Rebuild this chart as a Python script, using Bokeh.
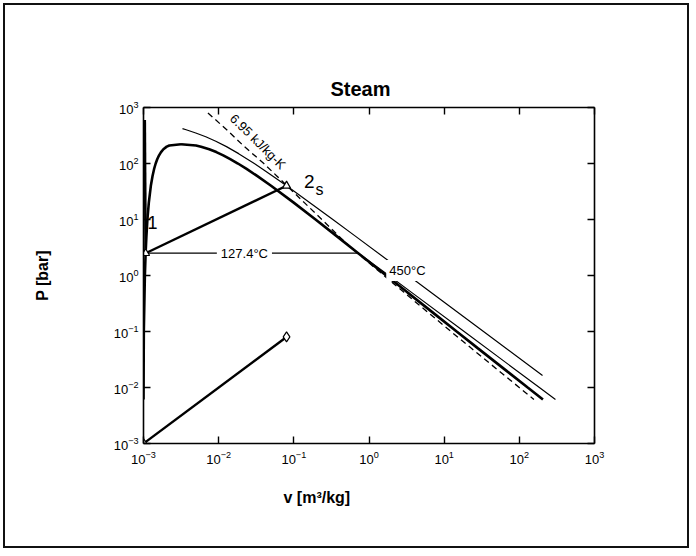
from bokeh.plotting import figure
from bokeh.models import LogAxis, FixedTicker, CustomJSTickFormatter, LogTickFormatter, Label, Title
from bokeh.embed import file_html
from bokeh.resources import INLINE

# ---- data (v in m3/kg, P in bar) ----
# saturation dome: liquid branch up to the critical point, then vapour branch
sat_liq_P = [0.00611, 0.1, 1.0, 2.5, 5, 10, 20, 40, 60, 80, 100, 120, 140, 160, 180, 200, 210, 220.6]
sat_liq_v = [0.001000, 0.001010, 0.001043, 0.001067, 0.001093, 0.001127, 0.001177, 0.001252,
             0.001319, 0.001384, 0.001452, 0.001527, 0.001611, 0.001711, 0.001840, 0.002036,
             0.002207, 0.003155]
sat_vap_P = [220.6, 210, 200, 180, 160, 140, 120, 100, 80, 60, 40, 20, 10, 5, 2.5, 1, 0.5,
             0.2, 0.1, 0.05, 0.02, 0.01, 0.00611]
sat_vap_v = [0.003155, 0.00500, 0.005834, 0.007489, 0.009306, 0.01150, 0.01426, 0.01803,
             0.02352, 0.03244, 0.04978, 0.09963, 0.1944, 0.3749, 0.7187, 1.694, 3.240, 7.649,
             14.67, 28.19, 67.00, 129.2, 206.1]

# compressed-liquid line
liq_P = [2.5, 600]
liq_v = [0.001067, 0.001040]

# 450 C isotherm
t450_P = [420, 400, 350, 300, 250, 200, 150, 100, 80, 60, 40, 20, 10, 5, 1, 0.1, 0.0164]
t450_v = [0.00330, 0.003693, 0.004961, 0.006735, 0.009162, 0.01270, 0.01845, 0.02978,
          0.03819, 0.05217, 0.08004, 0.1635, 0.3304, 0.6646, 3.334, 33.37, 203.5]

# 127.4 C isotherm: two-phase segment and superheated branch
t127_flat_P = [2.5, 2.5]
t127_flat_v = [0.001067, 0.7187]
t127_P = [2.5, 2.0, 1.0, 0.5, 0.1, 0.01, 0.00611]
t127_v = [0.7187, 0.9107, 1.836, 3.68, 18.45, 184.8, 302.4]

# isentrope s = 6.95 kJ/kg-K
s695_P = [800, 400, 200, 100, 60, 40, 20, 10, 5, 3.4, 2.5, 1.0, 0.5, 0.1, 0.05, 0.01, 0.00611]
s695_v = [0.0072, 0.0128, 0.022, 0.0399, 0.0593, 0.0810, 0.138, 0.236, 0.401, 0.540,
          0.705, 1.580, 2.92, 12.32, 23.05, 99.7, 156.4]

# state points 1 and 2s
state_v = [0.001067, 0.0800]
state_P = [2.5, 40.0]

# pair of points plotted on the lower diagonal
diag_v = [0.001, 0.080]
diag_P = [0.001, 0.080]

decades = [1e-3, 1e-2, 1e-1, 1e0, 1e1, 1e2, 1e3]

FONT = "Liberation Sans"
INK = "black"

p = figure(width=686, height=545, x_axis_type="log", y_axis_type="log",
           x_range=(1e-3, 1e3), y_range=(1e-3, 1e3),
           output_backend="svg", toolbar_location=None,
           min_border_left=138, min_border_right=97, min_border_top=102, min_border_bottom=107,
           title="Steam")
p.styles = {"border": "2px solid #111111", "margin": "3px"}
p.background_fill_color = "white"
p.border_fill_color = "white"
p.outline_line_color = None
p.grid.visible = False

p.title.text_font = FONT
p.title.text_font_size = "20px"
p.title.text_font_style = "bold"
p.title.text_color = INK
p.title.align = "left"
p.title.offset = 187
p.title.standoff = 15

blank_js = 'return "";'

def style_axis(ax, labelled):
    ax.ticker = FixedTicker(ticks=decades)
    ax.formatter = LogTickFormatter() if labelled else CustomJSTickFormatter(code=blank_js)
    ax.axis_line_width = 1.6
    ax.axis_line_color = INK
    ax.major_tick_in = 7
    ax.major_tick_out = 0
    ax.major_tick_line_width = 1.4
    ax.major_tick_line_color = INK
    ax.minor_tick_line_color = None
    ax.major_label_text_font = FONT
    ax.major_label_text_font_size = "13px"
    ax.major_label_text_color = INK
    ax.axis_label_text_font = FONT
    ax.axis_label_text_font_size = "16px"
    ax.axis_label_text_font_style = "bold"
    ax.axis_label_text_color = INK

style_axis(p.xaxis[0], True)
style_axis(p.yaxis[0], True)
p.xaxis[0].major_label_standoff = 7
p.yaxis[0].major_label_standoff = 5
p.yaxis[0].axis_label = "P [bar]"
p.yaxis[0].axis_label_standoff = 60

top_ax = LogAxis()
right_ax = LogAxis()
style_axis(top_ax, False)
style_axis(right_ax, False)
p.add_layout(top_ax, "above")
p.add_layout(right_ax, "right")

# horizontal-axis title, set left of centre under the frame
x_title = Title(text="v [m\u00b3/kg]", align="left", offset=140, standoff=40,
                text_font=FONT, text_font_size="16px", text_font_style="bold", text_color=INK)
p.add_layout(x_title, "below")

# curves
p.line(sat_liq_v, sat_liq_P, line_color=INK, line_width=2.6)
p.line(sat_vap_v, sat_vap_P, line_color=INK, line_width=2.6)
p.line(liq_v, liq_P, line_color=INK, line_width=2.6)
p.line(t450_v, t450_P, line_color=INK, line_width=1.2)
p.line(t127_flat_v, t127_flat_P, line_color=INK, line_width=1.2)
p.line(t127_v, t127_P, line_color=INK, line_width=1.2)
p.line(s695_v, s695_P, line_color=INK, line_width=1.3, line_dash="6 4")
p.line(state_v, state_P, line_color=INK, line_width=2.4)
p.line(diag_v, diag_P, line_color=INK, line_width=2.4)

p.scatter(state_v, state_P, marker="triangle", size=8, fill_color="white",
          line_color=INK, line_width=1.2)
p.scatter(diag_v, diag_P, marker="diamond", size=10, fill_color="white",
          line_color=INK, line_width=1.2)

# annotations inside the frame
def note(x, y, text, size, **kw):
    p.add_layout(Label(x=x, y=y, text=text, text_font=FONT, text_font_size=size,
                       text_color=INK, text_align="center", text_baseline="middle", **kw))

note(0.022, 2.5, "127.4\u00b0C", "13px", background_fill_color="white", padding=4)
note(3.24, 1.23, "450\u00b0C", "13px", background_fill_color="white", padding=3)
note(0.0333, 247, "6.95 kJ/kg-K", "13px", angle=-0.777)
note(0.00132, 8.8, "1", "18px")
note(0.161, 47.8, "2", "19px")
note(0.219, 34.4, "s", "16px")

open("out.html", "w").write(file_html(p, INLINE))
